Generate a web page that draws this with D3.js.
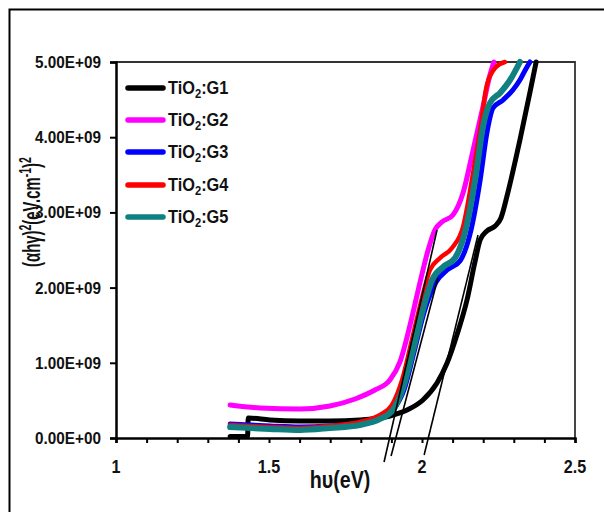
<!DOCTYPE html>
<html>
<head>
<meta charset="utf-8">
<script src="https://cdn.jsdelivr.net/npm/d3@7/dist/d3.min.js"></script>
<style>
  html, body { margin: 0; padding: 0; background: #fff; }
  svg { display: block; }
  text { font-family: "Liberation Sans", Arial, sans-serif; }
</style>
</head>
<body>
<svg id="chart" width="604" height="512"></svg>
<script>
// Tauc plot: (αhν)² versus photon energy for the TiO2:G samples
const seriesNames = ["G1", "G2", "G3", "G4", "G5"];
const seriesColors = ["#000000", "#ff00ff", "#0000ff", "#ff0000", "#108080"];

// photon energy (eV), (αhν)² in units of 1e9
const g1 = [[1.373, 0.02], [1.430, 0.02], [1.432, 0.266], [1.503, 0.239], [1.601, 0.226], [1.699, 0.226],
  [1.797, 0.239], [1.895, 0.293], [1.951, 0.372], [2.003, 0.505], [2.049, 0.731], [2.082, 0.997],
  [2.114, 1.370], [2.147, 1.835], [2.173, 2.340], [2.190, 2.633], [2.212, 2.753], [2.239, 2.819],
  [2.258, 2.926], [2.281, 3.271], [2.320, 3.963], [2.353, 4.601], [2.373, 5.0]];
const g2 = [[1.373, 0.439], [1.471, 0.399], [1.601, 0.386], [1.699, 0.426], [1.781, 0.519], [1.846, 0.638],
  [1.895, 0.771], [1.928, 1.011], [1.961, 1.503], [1.993, 2.061], [2.020, 2.500], [2.042, 2.766],
  [2.065, 2.872], [2.101, 2.965], [2.134, 3.258], [2.167, 3.830], [2.199, 4.402], [2.222, 4.827],
  [2.235, 5.0]];
const g3 = [[1.373, 0.186], [1.503, 0.160], [1.601, 0.146], [1.699, 0.160], [1.797, 0.199], [1.863, 0.266],
  [1.905, 0.372], [1.941, 0.638], [1.974, 1.144], [2.007, 1.676], [2.046, 2.074], [2.082, 2.234],
  [2.124, 2.354], [2.157, 2.713], [2.190, 3.431], [2.212, 4.056], [2.232, 4.388], [2.265, 4.495],
  [2.297, 4.628], [2.320, 4.761], [2.343, 4.934], [2.353, 5.0]];
const g4 = [[1.373, 0.173], [1.503, 0.146], [1.601, 0.133], [1.699, 0.160], [1.797, 0.213], [1.863, 0.306],
  [1.902, 0.439], [1.935, 0.771], [1.967, 1.303], [2.000, 1.862], [2.026, 2.234], [2.059, 2.394],
  [2.098, 2.527], [2.134, 2.806], [2.167, 3.524], [2.190, 4.096], [2.212, 4.694], [2.242, 4.934],
  [2.271, 5.0]];
const g5 = [[1.373, 0.146], [1.503, 0.120], [1.601, 0.106], [1.699, 0.133], [1.797, 0.173], [1.863, 0.253],
  [1.905, 0.372], [1.938, 0.665], [1.971, 1.170], [2.003, 1.702], [2.033, 2.101], [2.069, 2.274],
  [2.108, 2.394], [2.144, 2.793], [2.176, 3.497], [2.199, 4.136], [2.222, 4.455], [2.255, 4.588],
  [2.288, 4.761], [2.320, 5.0]];
const seriesData = [g1, g2, g3, g4, g5];

// linear extrapolations of the absorption edges down to the energy axis
const fitG2 = [[2.049, 2.766], [1.876, -0.319]];
const fitG345 = [[2.052, 2.128], [1.899, -0.239]];
const fitG1 = [[2.183, 2.699], [2.007, -0.226]];
const fitLines = [fitG2, fitG345, fitG1];

const xTickValues = [1, 1.5, 2, 2.5];
const xTickLabels = ["1", "1.5", "2", "2.5"];
const yTickValues = [0, 1, 2, 3, 4, 5];
const yTickLabels = ["0.00E+00", "1.00E+09", "2.00E+09", "3.00E+09", "4.00E+09", "5.00E+09"];

const svg = d3.select("#chart");
const plot = { left: 116, right: 575, top: 62, bottom: 438 };

const x = d3.scaleLinear().domain([1, 2.5]).range([plot.left, plot.right]);
const y = d3.scaleLinear().domain([0, 5]).range([plot.bottom, plot.top]);

// outer frame
svg.append("rect")
  .attr("x", 9.5).attr("y", 9.5).attr("width", 700).attr("height", 700)
  .attr("fill", "none").attr("stroke", "#000").attr("stroke-width", 2);

// top and right plot borders
svg.append("path")
  .attr("d", `M${plot.left},${plot.top}H${plot.right}V${plot.bottom}`)
  .attr("fill", "none").attr("stroke", "#333").attr("stroke-width", 1.8);

// x axis with minor ticks every 0.1 eV
const xAxis = d3.axisBottom(x)
  .tickValues(d3.range(10, 26).map(d => d / 10))
  .tickSize(5).tickFormat("");
const gx = svg.append("g").attr("transform", `translate(0,${plot.bottom})`).call(xAxis);
gx.select(".domain").attr("stroke", "#000").attr("stroke-width", 2.5);
gx.selectAll(".tick line").attr("stroke", "#000").attr("stroke-width", 2);

// condensed text: horizontal squeeze applied around the anchor point
function squeezed(sel, px, py, sx) {
  return sel.attr("transform", `translate(${px},${py}) scale(${sx},1)`);
}

svg.append("g").selectAll("text").data(xTickValues).join("text")
  .each(function (d) { squeezed(d3.select(this), x(d), 473, 0.85); })
  .attr("text-anchor", "middle")
  .attr("font-size", 19).attr("font-weight", "bold").attr("fill", "#111")
  .text((d, i) => xTickLabels[i]);

// y axis
const yAxis = d3.axisLeft(y).tickValues(yTickValues).tickSize(6).tickFormat("");
const gy = svg.append("g").attr("transform", `translate(${plot.left},0)`).call(yAxis);
gy.select(".domain").attr("stroke", "#000").attr("stroke-width", 2.5);
gy.selectAll(".tick line").attr("stroke", "#000").attr("stroke-width", 2);

svg.append("g").selectAll("text").data(yTickValues).join("text")
  .each(function (d) { squeezed(d3.select(this), 101, y(d) + 6, 0.9); })
  .attr("text-anchor", "end")
  .attr("font-size", 17).attr("font-weight", "bold").attr("fill", "#111")
  .text((d, i) => yTickLabels[i]);

// axis titles
squeezed(svg.append("text"), 340, 488, 0.82)
  .attr("text-anchor", "middle")
  .attr("font-size", 24).attr("font-weight", "bold").attr("fill", "#111")
  .text("hυ(eV)");

const yt = svg.append("text")
  .attr("transform", "translate(40,212) rotate(-90) scale(0.62,1)")
  .attr("text-anchor", "middle")
  .attr("font-size", 24).attr("font-weight", "bold").attr("fill", "#111");
yt.append("tspan").text("(αhγ)");
yt.append("tspan").attr("dy", -9).attr("font-size", 17).text("2");
yt.append("tspan").attr("dy", 9).text("(eV.cm");
yt.append("tspan").attr("dy", -9).attr("font-size", 17).text("-1");
yt.append("tspan").attr("dy", 9).text(")");
yt.append("tspan").attr("dy", -9).attr("font-size", 17).text("2");

// curves
const line = d3.line()
  .x(d => x(d[0])).y(d => y(d[1]))
  .curve(d3.curveMonotoneX);

const widths = [5, 5, 5, 4.5, 6];
svg.append("g").selectAll("path").data(seriesData).join("path")
  .attr("d", line)
  .attr("fill", "none")
  .attr("stroke", (d, i) => seriesColors[i])
  .attr("stroke-width", (d, i) => widths[i])
  .attr("stroke-linejoin", "round")
  .attr("stroke-linecap", "round");

// extrapolation lines
const straight = d3.line().x(d => x(d[0])).y(d => y(d[1]));
svg.append("g").selectAll("path").data(fitLines).join("path")
  .attr("d", straight)
  .attr("fill", "none").attr("stroke", "#000").attr("stroke-width", 1.6);

// legend
const legendY = [88, 120, 152, 185, 217];
const lg = svg.append("g").selectAll("g").data(seriesNames).join("g")
  .attr("transform", (d, i) => `translate(0,${legendY[i]})`);
lg.append("line")
  .attr("x1", 128).attr("x2", 163).attr("y1", 0).attr("y2", 0)
  .attr("stroke", (d, i) => seriesColors[i]).attr("stroke-width", 5.5)
  .attr("stroke-linecap", "round");
const lt = lg.append("text")
  .attr("transform", "translate(168,6) scale(0.86,1)")
  .attr("font-size", 19).attr("font-weight", "bold").attr("fill", "#111");
lt.append("tspan").text("TiO");
lt.append("tspan").attr("dy", 4).attr("font-size", 13).text("2");
lt.append("tspan").attr("dy", -4).text(d => ":" + d);
</script>
</body>
</html>
